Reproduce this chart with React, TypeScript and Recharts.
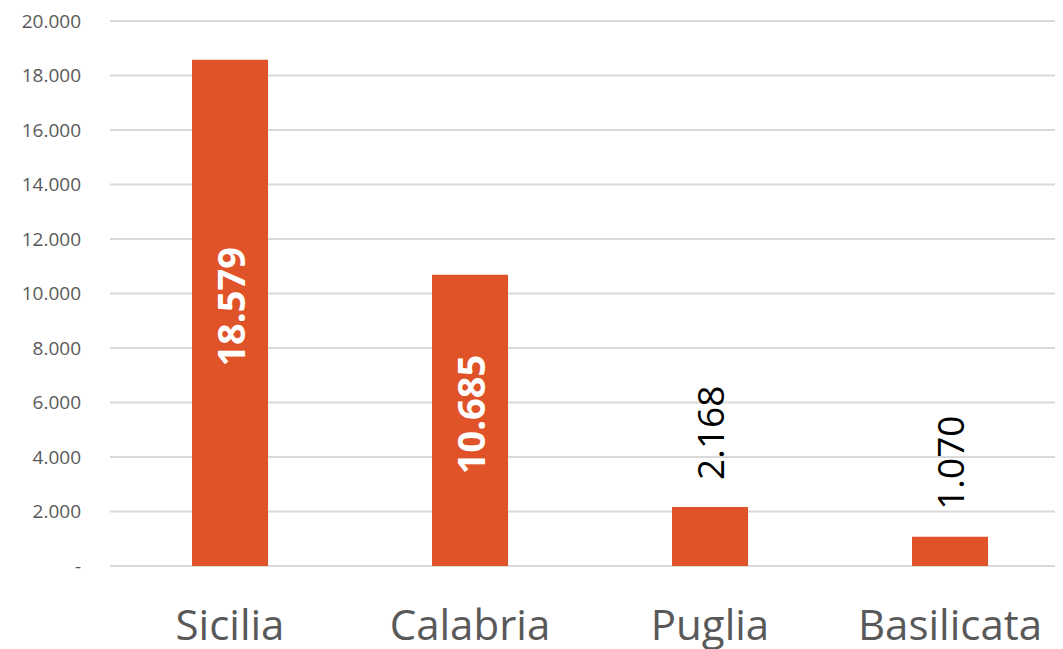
import React from "react";
import { BarChart, Bar, XAxis, YAxis, CartesianGrid, LabelList } from "recharts";

const regions = ["Sicilia", "Calabria", "Puglia", "Basilicata"];
const values = [18579, 10685, 2168, 1070];
const yTicks = [0, 2000, 4000, 6000, 8000, 10000, 12000, 14000, 16000, 18000, 20000];

const data = regions.map((r, i) => ({ name: r, value: values[i] }));

const FONT = "'Open Sans', 'Liberation Sans', sans-serif";

const fmt = (v: number) =>
  v === 0 ? "-" : String(Math.round(v)).replace(/\B(?=(\d{3})+(?!\d))/g, ".");

const ValueLabel = (props: any) => {
  const { x, y, width, height, value } = props;
  const cx = Number(x) + Number(width) / 2;
  const inside = Number(value) > 5000;
  if (inside) {
    const cy = Number(y) + Number(height) / 2 - 6;
    return (
      <text
        x={cx}
        y={cy}
        transform={`rotate(-90 ${cx} ${cy})`}
        textAnchor="middle"
        dominantBaseline="central"
        fill="#ffffff"
        fontWeight="bold"
        fontSize={38}
        fontFamily={FONT}
      >
        {fmt(Number(value))}
      </text>
    );
  }
  const ty = Number(y) - 27;
  return (
    <text
      x={cx}
      y={ty}
      transform={`rotate(-90 ${cx} ${ty})`}
      textAnchor="start"
      dominantBaseline="central"
      fill="#000000"
      fontSize={37}
      fontFamily={FONT}
    >
      {fmt(Number(value))}
    </text>
  );
};

export default function App() {
  return (
    <div style={{ width: 1062, height: 641, fontFamily: FONT }}>
      <BarChart
        width={1062}
        height={641}
        data={data}
        margin={{ top: 13, right: 0, left: 0, bottom: 0 }}
        barCategoryGap={82}
      >
        <CartesianGrid vertical={false} stroke="#d9d9d9" strokeWidth={2} />
        <XAxis
          dataKey="name"
          axisLine={false}
          tickLine={false}
          tickSize={0}
          tickMargin={44}
          height={83}
          tick={{ fill: "#595959", fontSize: 42, fontFamily: FONT }}
        />
        <YAxis
          domain={[0, 20000]}
          ticks={yTicks}
          interval={0}
          axisLine={false}
          tickLine={false}
          tickSize={0}
          tickMargin={29}
          width={102}
          tickFormatter={fmt}
          tick={{ fill: "#595959", fontSize: 19, fontFamily: FONT }}
        />
        <Bar dataKey="value" fill="#E05328" isAnimationActive={false}>
          <LabelList dataKey="value" content={<ValueLabel />} />
        </Bar>
      </BarChart>
    </div>
  );
}
